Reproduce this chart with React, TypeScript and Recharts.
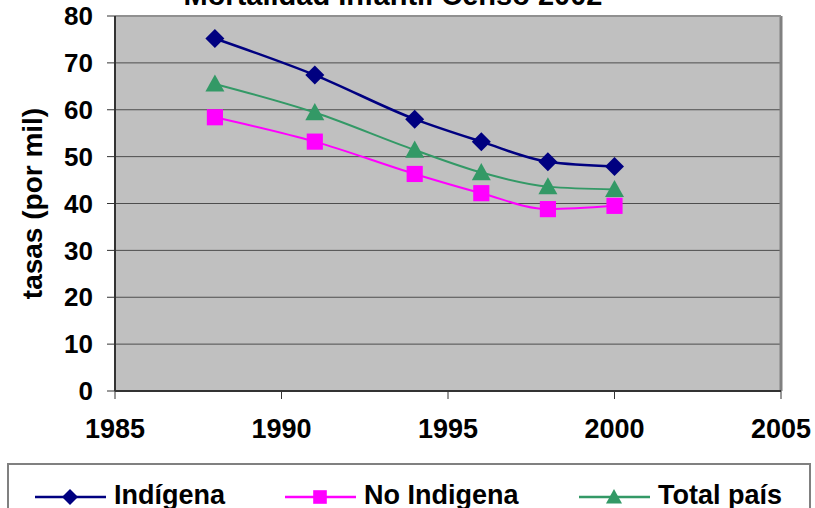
import React from 'react';
import {
  LineChart, Line, XAxis, YAxis, CartesianGrid, Legend, ReferenceLine,
} from 'recharts';

const years = [1988, 1991, 1994, 1996, 1998, 2000];
const indigena = [75.2, 67.4, 58.0, 53.2, 48.9, 47.9];
const noIndigena = [58.4, 53.2, 46.3, 42.2, 38.8, 39.5];
const totalPais = [65.5, 59.4, 51.4, 46.6, 43.6, 43.0];

const xTicks = [1985, 1990, 1995, 2000, 2005];
const yTicks = [0, 10, 20, 30, 40, 50, 60, 70, 80];

const SERIES = [
  { key: 'indigena', name: 'Indígena', color: '#000080', shape: 'diamond' },
  { key: 'noIndigena', name: 'No Indigena', color: '#FF00FF', shape: 'square' },
  { key: 'totalPais', name: 'Total país', color: '#339966', shape: 'triangle' },
];

const data = years.map((year, i) => ({
  year,
  indigena: indigena[i],
  noIndigena: noIndigena[i],
  totalPais: totalPais[i],
}));

const FONT = 'Arial, "Liberation Sans", sans-serif';

// marker shapes, Excel style
const Marker = ({ shape, cx, cy, color, s }: { shape: string; cx: number; cy: number; color: string; s: number }) => {
  if (shape === 'diamond') {
    return <polygon points={`${cx},${cy - s} ${cx + s},${cy} ${cx},${cy + s} ${cx - s},${cy}`} fill={color} />;
  }
  if (shape === 'square') {
    return <rect x={cx - s * 0.85} y={cy - s * 0.85} width={s * 1.7} height={s * 1.7} fill={color} />;
  }
  return <polygon points={`${cx},${cy - s} ${cx + s},${cy + s * 0.8} ${cx - s},${cy + s * 0.8}`} fill={color} />;
};

const makeDot = (shape: string, color: string, s: number) => (props: any) => {
  const { cx, cy, index } = props;
  if (cx == null || cy == null) return <g key={`d-${index}`} />;
  return (
    <g key={`${shape}-${index}`}>
      <Marker shape={shape} cx={cx} cy={cy} color={color} s={s} />
    </g>
  );
};

const LEGEND_POS = [26, 276, 570];

const renderLegend = () => (
  <div
    style={{
      position: 'relative',
      width: 804,
      height: 60,
      boxSizing: 'border-box',
      border: '2px solid #808080',
      background: '#fff',
      fontFamily: FONT,
    }}
  >
    {SERIES.map((s, i) => (
      <div key={s.key} style={{ position: 'absolute', left: LEGEND_POS[i], top: 0, height: 60 }}>
        <svg width={72} height={30} style={{ position: 'absolute', left: 0, top: 17 }}>
          <line x1={0} x2={71} y1={15} y2={15} stroke={s.color} strokeWidth={2.5} />
          <Marker shape={s.shape} cx={35} cy={15} color={s.color} s={s.shape === 'square' ? 8 : 8} />
        </svg>
        <span
          style={{
            position: 'absolute',
            left: 79,
            top: 15,
            fontSize: 27,
            fontWeight: 'bold',
            lineHeight: '30px',
            whiteSpace: 'nowrap',
            color: '#000',
          }}
        >
          {s.name}
        </span>
      </div>
    ))}
  </div>
);

export default function App() {
  return (
    <div style={{ position: 'absolute', top: 0, left: 0, width: 815, height: 508, background: '#fff', overflow: 'hidden' }}>
      <LineChart
        width={815}
        height={508}
        data={data}
        margin={{ top: 16, right: 34, bottom: 57, left: 0 }}
        style={{ fontFamily: FONT }}
      >
        <CartesianGrid horizontal vertical={false} fill="#C0C0C0" stroke="#4d4d4d" strokeWidth={1} />
        <XAxis
          dataKey="year"
          type="number"
          domain={[1985, 2005]}
          ticks={xTicks}
          height={60}
          tickSize={8}
          tickMargin={20}
          axisLine={{ stroke: '#333', strokeWidth: 2 }}
          tickLine={{ stroke: '#333', strokeWidth: 1 }}
          tick={{ fontSize: 27, fontWeight: 'bold', fill: '#000' }}
          interval={0}
        />
        <YAxis
          domain={[0, 80]}
          ticks={yTicks}
          width={115}
          tickSize={8}
          tickMargin={14}
          axisLine={{ stroke: '#333', strokeWidth: 2 }}
          tickLine={{ stroke: '#333', strokeWidth: 1 }}
          tick={{ fontSize: 26, fontWeight: 'bold', fill: '#000' }}
          interval={0}
          label={{
            value: 'tasas (por mil)',
            angle: -90,
            position: 'center',
            dx: -25,
            style: { fontSize: 28, fontWeight: 'bold', fill: '#000' },
          }}
        />
        <ReferenceLine x={2005} stroke="#808080" strokeWidth={3} />
        <ReferenceLine y={80} stroke="#909090" strokeWidth={2} />
        {SERIES.map((s) => (
          <Line
            key={s.key}
            dataKey={s.key}
            name={s.name}
            type="monotone"
            stroke={s.color}
            strokeWidth={s.key === 'indigena' ? 2.5 : 2}
            dot={makeDot(s.shape, s.color, s.shape === 'square' ? 9.5 : 9.5)}
            activeDot={false}
            isAnimationActive={false}
          />
        ))}
        <Legend
          content={renderLegend}
          verticalAlign="middle"
          align="center"
          layout="horizontal"
          wrapperStyle={{ left: 7, top: 463, width: 804, height: 60 }}
        />
      </LineChart>
      <svg width={815} height={30} style={{ position: 'absolute', top: 0, left: 0, pointerEvents: 'none' }}>
        <text x={393} y={5} textAnchor="middle" fontFamily={FONT} fontSize={29} fontWeight="bold" fill="#000">
          Mortalidad Infantil Censo 2002
        </text>
      </svg>
    </div>
  );
}
